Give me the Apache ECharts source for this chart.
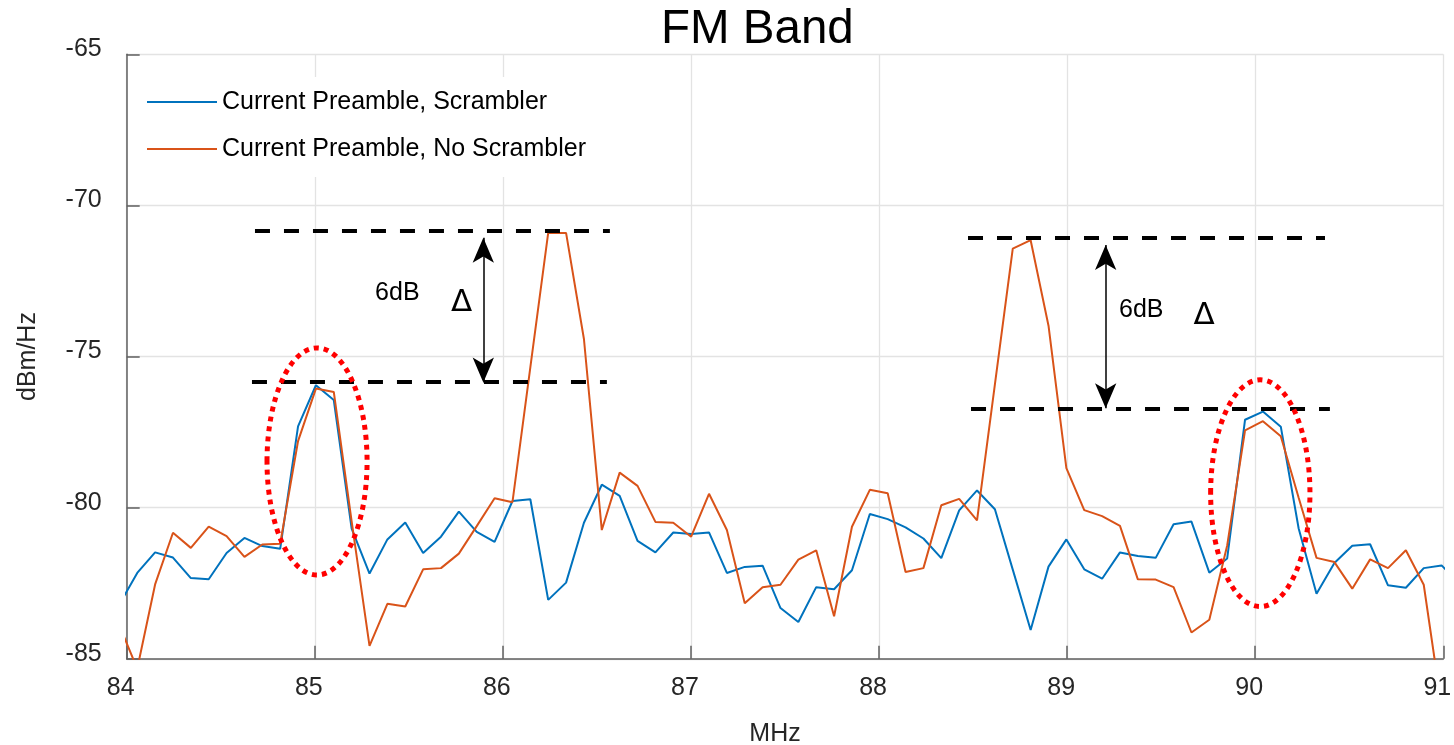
<!DOCTYPE html>
<html>
<head>
<meta charset="utf-8">
<title>FM Band</title>
<script src="https://cdn.jsdelivr.net/npm/echarts@6/dist/echarts.min.js"></script>
<style>
  html, body { margin: 0; padding: 0; background: #fff; }
  #fmchart { width: 1454px; height: 745px; }
</style>
</head>
<body>
<div id="fmchart"></div>
<script>
// sample grid (MHz), shared by both traces
var freqMHz = [
  83.961, 84.056, 84.151, 84.246, 84.341, 84.436, 84.531, 84.626, 84.721, 84.816,
  84.911, 85.006, 85.101, 85.196, 85.291, 85.386, 85.481, 85.576, 85.671, 85.766,
  85.861, 85.956, 86.051, 86.146, 86.241, 86.336, 86.431, 86.526, 86.621, 86.716,
  86.811, 86.906, 87.001, 87.096, 87.191, 87.286, 87.381, 87.476, 87.571, 87.666,
  87.761, 87.856, 87.951, 88.046, 88.141, 88.236, 88.331, 88.426, 88.521, 88.616,
  88.711, 88.806, 88.901, 88.996, 89.091, 89.186, 89.281, 89.376, 89.471, 89.566,
  89.661, 89.756, 89.851, 89.946, 90.041, 90.136, 90.231, 90.326, 90.421, 90.516,
  90.611, 90.706, 90.801, 90.896, 90.991, 91.086
];

// dBm/Hz, "Current Preamble, Scrambler"
var scramblerDbm = [
  -83.2, -82.16, -81.48, -81.65, -82.33, -82.37, -81.50, -81.00, -81.27, -81.36,
  -77.31, -75.95, -76.44, -80.69, -82.18, -81.05, -80.49, -81.50, -80.96, -80.13,
  -80.80, -81.13, -79.78, -79.72, -83.05, -82.48, -80.50, -79.24, -79.61, -81.10,
  -81.48, -80.82, -80.87, -80.82, -82.16, -81.96, -81.92, -83.32, -83.78, -82.63,
  -82.70, -82.07, -80.21, -80.38, -80.65, -81.02, -81.67, -80.09, -79.43, -80.05,
  -82.05, -84.05, -81.95, -81.05, -82.04, -82.35, -81.48, -81.60, -81.66, -80.55,
  -80.46, -82.15, -81.68, -77.09, -76.82, -77.32, -80.69, -82.85, -81.83, -81.26,
  -81.21, -82.57, -82.65, -82.00, -81.91, -82.5
];

// dBm/Hz, "Current Preamble, No Scrambler"
var noScramblerDbm = [
  -83.9, -85.33, -82.54, -80.83, -81.33, -80.63, -80.94, -81.63, -81.22, -81.19,
  -77.80, -76.06, -76.17, -80.45, -84.57, -83.18, -83.27, -82.04, -82.00, -81.52,
  -80.61, -79.69, -79.82, -75.36, -70.91, -70.91, -74.42, -80.74, -78.84, -79.28,
  -80.47, -80.50, -80.96, -79.54, -80.74, -83.16, -82.63, -82.55, -81.72, -81.41,
  -83.59, -80.63, -79.41, -79.52, -82.13, -82.00, -79.92, -79.71, -80.42, -75.92,
  -71.43, -71.15, -73.98, -78.69, -80.08, -80.28, -80.60, -82.37, -82.38, -82.63,
  -84.13, -83.71, -81.25, -77.44, -77.14, -77.64, -79.67, -81.66, -81.80, -82.68,
  -81.71, -82.00, -81.41, -82.55, -86.6, -87.5
];

var seriesNames = ['Current Preamble, Scrambler', 'Current Preamble, No Scrambler'];
var seriesColors = ['#0072BD', '#D95319'];

// 6 dB markers, in data units
var deltaMarks = [
  { hiY: -70.84, hiX: [84.682, 86.569], loY: -75.84, loX: [84.666, 86.553],
    arrowX: 85.896, arrowY: [-71.07, -75.86], dbText: [85.439, -72.91], deltaText: [85.781, -73.24] },
  { hiY: -71.07, hiX: [88.473, 90.371], loY: -76.72, loX: [88.489, 90.397],
    arrowX: 89.205, arrowY: [-71.31, -76.71], dbText: [89.394, -73.45], deltaText: [89.728, -73.65] }
];
// dotted rings around the scrambled peaks: centre, half width (MHz), half height (dB)
var peakRings = [
  { c: [85.012, -78.47], rx: 0.266, ry: 3.756 },
  { c: [90.027, -79.52], rx: 0.264, ry: 3.75 }
];

var font = 'Liberation Sans, Arial, sans-serif';

function pairs(xs, ys) {
  return xs.map(function (x, i) { return [x, ys[i]]; });
}

function render_chart() {
  var chartobj = echarts.init(document.getElementById('fmchart'));

  var markData = [];
  deltaMarks.forEach(function (m) {
    var dash = { type: [15, 14], width: 4, color: '#000' };
    markData.push([{ coord: [m.hiX[0], m.hiY], symbol: 'none', lineStyle: dash }, { coord: [m.hiX[1], m.hiY], symbol: 'none' }]);
    markData.push([{ coord: [m.loX[0], m.loY], symbol: 'none', lineStyle: dash }, { coord: [m.loX[1], m.loY], symbol: 'none' }]);
    markData.push([
      { coord: [m.arrowX, m.arrowY[0]], symbol: 'arrow', symbolSize: [16, 25], lineStyle: { type: 'solid', width: 1.5, color: '#000' } },
      { coord: [m.arrowX, m.arrowY[1]], symbol: 'arrow', symbolSize: [16, 25] }
    ]);
  });

  var axisFont = { fontFamily: font, fontSize: 25, color: '#262626' };

  var option = {
    animation: false,
    title: {
      text: 'FM Band',
      left: 661,
      top: 6,
      padding: 0,
      textStyle: { fontFamily: font, fontSize: 47.5, fontWeight: 'normal', color: '#000' }
    },
    grid: { left: 126.7, right: 10.7, top: 54.3, bottom: 86.2, containLabel: false, outerBoundsMode: 'none' },
    legend: {
      data: seriesNames,
      orient: 'vertical',
      left: 137,
      top: 77,
      padding: [12.5, 16, 15.5, 10],
      icon: 'rect',
      itemWidth: 70,
      itemHeight: 2,
      itemGap: 22,
      backgroundColor: '#fff',
      textStyle: { fontFamily: font, fontSize: 25, color: '#000' }
    },
    xAxis: {
      type: 'value',
      min: 84,
      max: 91,
      interval: 1,
      name: 'MHz',
      nameLocation: 'middle',
      nameGap: 63,
      nameTextStyle: Object.assign({ padding: [0, 20, 0, 0] }, axisFont),
      axisLine: { show: true, lineStyle: { color: '#606060', width: 1.5 } },
      axisTick: { show: true, inside: true, length: 13, lineStyle: { color: '#606060', width: 1.5 } },
      axisLabel: Object.assign({ margin: 16.5, padding: [0, 12, 0, 0] }, axisFont),
      splitLine: { show: true, lineStyle: { color: '#e3e3e3', width: 1.3 } }
    },
    yAxis: {
      type: 'value',
      min: -85,
      max: -65,
      interval: 5,
      name: 'dBm/Hz',
      nameLocation: 'middle',
      nameGap: 86,
      nameTextStyle: axisFont,
      axisLine: { show: true, lineStyle: { color: '#606060', width: 1.5 } },
      axisTick: { show: true, inside: true, length: 13, lineStyle: { color: '#606060', width: 1.5 } },
      axisLabel: Object.assign({ margin: 25, verticalAlign: 'bottom', lineHeight: 10 }, axisFont),
      splitLine: { show: true, lineStyle: { color: '#e3e3e3', width: 1.3 } }
    },
    series: [
      {
        name: seriesNames[0],
        type: 'line',
        data: pairs(freqMHz, scramblerDbm),
        showSymbol: false,
        symbol: 'none',
        color: seriesColors[0],
        lineStyle: { width: 2, color: seriesColors[0] },
        clip: true
      },
      {
        name: seriesNames[1],
        type: 'line',
        data: pairs(freqMHz, noScramblerDbm),
        showSymbol: false,
        symbol: 'none',
        color: seriesColors[1],
        lineStyle: { width: 2, color: seriesColors[1] },
        clip: true
      },
      {
        name: 'annotations',
        type: 'line',
        data: [],
        z: 5,
        markLine: {
          silent: true,
          animation: false,
          label: { show: false },
          emphasis: { disabled: true },
          data: markData
        }
      }
    ]
  };
  chartobj.setOption(option);

  // rings and texts are placed in pixels from data coordinates
  var toPx = function (pt) { return chartobj.convertToPixel({ gridIndex: 0 }, pt); };
  var extras = [];
  peakRings.forEach(function (r) {
    var c = toPx(r.c);
    var ex = toPx([r.c[0] + r.rx, r.c[1]]);
    var ey = toPx([r.c[0], r.c[1] + r.ry]);
    extras.push({
      type: 'ellipse',
      z: 10,
      silent: true,
      shape: { cx: c[0], cy: c[1], rx: ex[0] - c[0], ry: c[1] - ey[1] },
      style: { fill: 'none', stroke: '#ff0000', lineWidth: 5, lineDash: [5, 5] }
    });
  });
  deltaMarks.forEach(function (m) {
    var p = toPx(m.dbText);
    extras.push({
      type: 'text', z: 10, silent: true, x: p[0], y: p[1],
      style: { text: '6dB', fontFamily: font, fontSize: 25, fill: '#000', align: 'center', verticalAlign: 'middle' }
    });
    var d = toPx(m.deltaText);
    extras.push({
      type: 'text', z: 10, silent: true, x: d[0], y: d[1],
      style: { text: '\u0394', fontFamily: 'DejaVu Sans, sans-serif', fontSize: 31, fill: '#000', align: 'center', verticalAlign: 'middle' }
    });
  });
  chartobj.setOption({ graphic: extras });
}

render_chart();
</script>
</body>
</html>
